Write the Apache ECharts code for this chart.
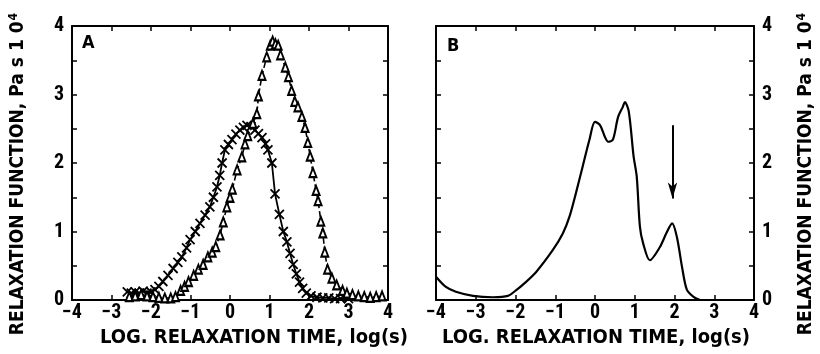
<!DOCTYPE html>
<html>
<head>
<meta charset="utf-8">
<script src="https://cdn.jsdelivr.net/npm/echarts@6.0.0/dist/echarts.min.js"></script>
<style>
  html, body { margin: 0; padding: 0; background: #fff; }
  #chart { width: 820px; height: 354px; }
</style>
</head>
<body>
<div id="chart"></div>
<script>
// panel A, crosses (solid line)
const crossX = [-2.6, -2.5, -2.4, -2.3, -2.2, -2.1, -2.0, -1.9, -1.8, -1.7, -1.57, -1.44, -1.32, -1.22, -1.1, -1.01, -0.88, -0.76, -0.63, -0.51, -0.42, -0.33, -0.26, -0.2, -0.13, -0.04, 0.05, 0.15, 0.25, 0.34, 0.43, 0.53, 0.63, 0.72, 0.81, 0.9, 0.96, 1.06, 1.14, 1.25, 1.35, 1.44, 1.52, 1.6, 1.68, 1.76, 1.84, 1.93, 2.05, 2.2, 2.35, 2.5, 2.65, 2.8, 3.0];
const crossY = [0.12, 0.1, 0.12, 0.1, 0.13, 0.1, 0.12, 0.15, 0.2, 0.27, 0.36, 0.46, 0.55, 0.63, 0.76, 0.88, 1.0, 1.12, 1.24, 1.36, 1.5, 1.65, 1.82, 2.0, 2.19, 2.27, 2.34, 2.42, 2.48, 2.52, 2.55, 2.53, 2.48, 2.43, 2.37, 2.28, 2.19, 2.0, 1.55, 1.25, 1.0, 0.85, 0.68, 0.52, 0.38, 0.26, 0.17, 0.1, 0.06, 0.04, 0.03, 0.03, 0.02, 0.02, 0.02];

// panel A, triangles (dashed line)
const triX = [-2.55, -2.4, -2.25, -2.1, -1.95, -1.8, -1.65, -1.5, -1.38, -1.25, -1.15, -1.05, -0.92, -0.8, -0.68, -0.56, -0.45, -0.36, -0.25, -0.17, -0.08, 0.0, 0.06, 0.18, 0.3, 0.38, 0.45, 0.58, 0.68, 0.72, 0.81, 0.93, 1.02, 1.08, 1.15, 1.22, 1.28, 1.4, 1.48, 1.56, 1.64, 1.72, 1.82, 1.9, 1.97, 2.03, 2.1, 2.18, 2.23, 2.3, 2.35, 2.4, 2.47, 2.58, 2.7, 2.85, 2.96, 3.1, 3.25, 3.4, 3.55, 3.7, 3.85];
const triY = [0.05, 0.06, 0.08, 0.06, 0.05, 0.04, 0.03, 0.03, 0.05, 0.14, 0.2, 0.27, 0.36, 0.45, 0.52, 0.63, 0.7, 0.78, 0.95, 1.14, 1.36, 1.5, 1.62, 1.9, 2.09, 2.28, 2.4, 2.58, 2.72, 2.98, 3.28, 3.55, 3.72, 3.78, 3.74, 3.72, 3.58, 3.4, 3.26, 3.06, 2.9, 2.82, 2.68, 2.52, 2.3, 2.1, 1.86, 1.6, 1.45, 1.15, 0.98, 0.7, 0.45, 0.32, 0.22, 0.14, 0.1, 0.08, 0.06, 0.05, 0.04, 0.05, 0.06];

// panel B, solid curve
const bX = [-4, -3.75, -3.5, -3.07, -2.57, -2.19, -1.99, -1.82, -1.48, -1.06, -0.81, -0.64, -0.48, -0.31, -0.14, 0.0, 0.13, 0.25, 0.33, 0.45, 0.58, 0.7, 0.75, 0.85, 0.97, 1.05, 1.13, 1.21, 1.38, 1.63, 1.8, 1.94, 2.06, 2.19, 2.31, 2.47, 2.64];
const bY = [0.34, 0.19, 0.12, 0.06, 0.04, 0.06, 0.14, 0.22, 0.41, 0.73, 0.97, 1.22, 1.56, 1.95, 2.34, 2.6, 2.55, 2.38, 2.31, 2.34, 2.67, 2.82, 2.89, 2.75, 2.1, 1.8, 1.07, 0.83, 0.58, 0.77, 0.98, 1.12, 0.92, 0.48, 0.15, 0.05, 0.0];

// arrow in panel B
const arrowFrom = [1.95, 2.55];
const arrowTo = [1.95, 1.48];

const xTicks = [-4, 4, 1];
const yTicks = [0, 4, 0.5];

const TICK_FONT = "'Roboto Condensed', 'DejaVu Sans Condensed', sans-serif";
const TITLE_FONT = "'DejaVu Sans Condensed', sans-serif";
const zip = (xs, ys) => xs.map((x, i) => [x, ys[i]]);

const chart = echarts.init(document.getElementById('chart'), null, { renderer: 'canvas' });

const axisLine = { show: true, onZero: false, lineStyle: { color: '#000', width: 2 } };
const tick = { show: true, inside: true, length: 5, lineStyle: { color: '#000', width: 1.5 } };
const lbl = {
  color: '#000', fontFamily: TICK_FONT, fontWeight: 'bold', fontSize: 20
};

function xAx(grid, pos, show) {
  return {
    type: 'value', gridIndex: grid, position: pos,
    min: xTicks[0], max: xTicks[1], interval: xTicks[2],
    axisLine, axisTick: tick, splitLine: { show: false },
    axisLabel: show ? Object.assign({
      margin: 3,
      formatter: v => String(v).replace('-', '\u2212')
    }, lbl) : { show: false }
  };
}
function yAx(grid, pos, show) {
  return {
    type: 'value', gridIndex: grid, position: pos,
    min: yTicks[0], max: yTicks[1], interval: yTicks[2],
    axisLine, axisTick: tick, splitLine: { show: false },
    axisLabel: show ? Object.assign({
      margin: 8,
      formatter: v => (Number.isInteger(v) ? String(v) : '')
    }, lbl) : { show: false }
  };
}

const yTitle = {
  rich: {
    a: { fontFamily: TITLE_FONT, fontWeight: 'bold', fontSize: 19, color: '#000' },
    b: { fontFamily: TITLE_FONT, fontWeight: 'bold', fontSize: 12, color: '#000', verticalAlign: 'top', padding: [0, 0, 8, 1] }
  }
};

const option = {
  animation: false,
  grid: [
    { left: 72, top: 26, width: 316, height: 274 },
    { left: 436, top: 26, width: 318, height: 274 }
  ],
  xAxis: [xAx(0, 'bottom', true), xAx(0, 'top', false), xAx(1, 'bottom', true), xAx(1, 'top', false)],
  yAxis: [yAx(0, 'left', true), yAx(0, 'right', false), yAx(1, 'right', true), yAx(1, 'left', false)],
  series: [
    {
      type: 'line', xAxisIndex: 0, yAxisIndex: 0,
      data: zip(crossX, crossY),
      symbol: 'path://M0,0L10,10M10,0L0,10', symbolSize: 9,
      itemStyle: { color: '#000', borderColor: '#000', borderWidth: 1.8 },
      lineStyle: { color: '#000', width: 1.8 }
    },
    {
      type: 'line', xAxisIndex: 0, yAxisIndex: 0,
      data: zip(triX, triY),
      symbol: 'emptyTriangle', symbolSize: [7, 9],
      itemStyle: { color: '#000', borderColor: '#000', borderWidth: 1.6 },
      lineStyle: { color: '#000', width: 1.6, type: [6, 3] }
    },
    {
      type: 'line', xAxisIndex: 2, yAxisIndex: 2,
      data: zip(bX, bY),
      symbol: 'none', smooth: 0.3,
      lineStyle: { color: '#000', width: 2.2 },
      markLine: {
        silent: true, animation: false,
        symbol: ['none', 'arrow'], symbolSize: [7, 16],
        label: { show: false },
        lineStyle: { color: '#000', width: 2, type: 'solid' },
        data: [[{ coord: arrowFrom }, { coord: arrowTo }]]
      }
    }
  ],
  graphic: [
    { type: 'text', left: 82, top: 34, style: { text: 'A', font: 'bold 18px ' + TITLE_FONT, fill: '#000' } },
    { type: 'text', left: 447, top: 37, style: { text: 'B', font: 'bold 18px ' + TITLE_FONT, fill: '#000' } },
    {
      type: 'text', x: 254, y: 338,
      style: { text: 'LOG. RELAXATION TIME, log(s)', font: 'bold 20px ' + TITLE_FONT, fill: '#000', align: 'center', verticalAlign: 'middle' }
    },
    {
      type: 'text', x: 596, y: 338,
      style: { text: 'LOG. RELAXATION TIME, log(s)', font: 'bold 20px ' + TITLE_FONT, fill: '#000', align: 'center', verticalAlign: 'middle' }
    },
    {
      type: 'text', x: 18, y: 174, rotation: Math.PI / 2,
      style: Object.assign({ text: '{a|RELAXATION FUNCTION, Pa s 1 0}{b|4}', align: 'center', verticalAlign: 'middle' }, yTitle)
    },
    {
      type: 'text', x: 806, y: 174, rotation: Math.PI / 2,
      style: Object.assign({ text: '{a|RELAXATION FUNCTION, Pa s 1 0}{b|4}', align: 'center', verticalAlign: 'middle' }, yTitle)
    }
  ]
};

chart.setOption(option);
</script>
</body>
</html>
